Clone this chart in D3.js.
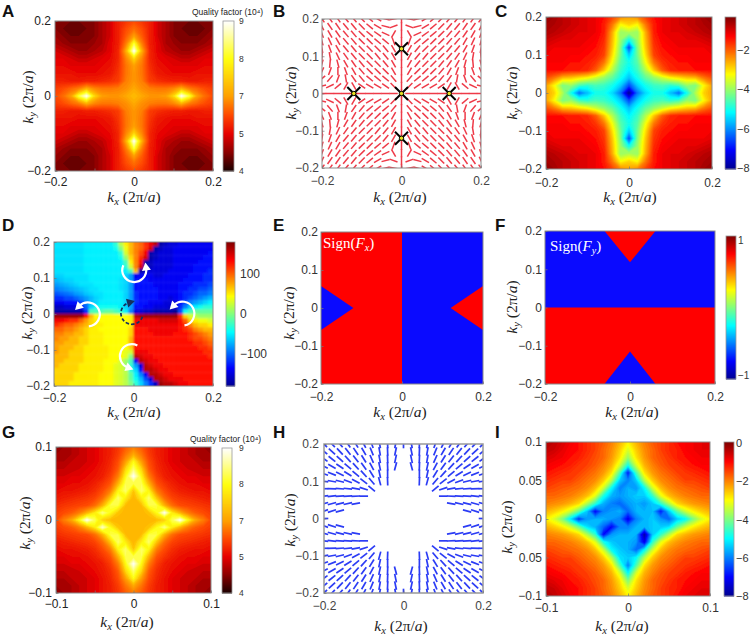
<!DOCTYPE html>
<html><head><meta charset="utf-8">
<script src="https://cdn.jsdelivr.net/npm/d3@7"></script>
<style>html,body{margin:0;background:#fff;overflow:hidden}svg{display:block}</style></head>
<body><svg id="c" width="750" height="635"></svg>
<script>
// ---- DATA ----
const tick2 = [-0.2,-0.1,0,0.1,0.2];
const tick2Labels = ["−0.2","−0.1","0","0.1","0.2"];
const tick2Sparse = ["−0.2","","0","","0.2"];
const tick1 = [-0.1,-0.05,0,0.05,0.1];
const tick1Sparse = ["−0.1","","0","","0.1"];
const iYLabels = ["−0.1","0.05","0","0.05","0.1"];
const qualityTicks = [4,5,7,8,9];
const logTicksC = [-8,-6,-4,-2];
const logTicksI = [-8,-6,-4,-2,0];
const phaseTicks = [-100,0,100];
const signTicks = [-1,1];
// Quality factor x10 (rows y top to bottom, columns x left to right)
const gridA = [
[45,44,44,44,44,45,47,49,54,57,60,57,54,49,47,45,44,44,44,44,45],
[45,44,43,43,44,45,47,49,54,60,64,60,54,49,47,45,44,43,43,44,45],
[46,45,44,44,44,45,47,49,54,62,70,62,54,49,47,45,44,44,44,45,46],
[47,46,45,45,45,46,47,50,54,66,82,66,54,50,47,46,45,45,45,46,47],
[49,48,47,46,46,47,48,50,55,72,90,72,55,50,48,47,46,46,47,48,49],
[50,50,49,48,48,49,50,51,55,67,76,67,55,51,50,49,48,48,49,50,50],
[51,51,50,50,50,50,51,52,56,65,70,65,56,52,51,50,50,50,50,51,51],
[52,52,52,51,51,51,52,53,57,65,69,65,57,53,52,51,51,51,52,52,52],
[54,54,53,53,54,54,55,56,58,66,69,66,58,56,55,54,54,53,53,54,54],
[58,60,63,66,72,67,65,65,66,68,71,68,66,65,65,67,72,66,63,60,58],
[60,64,70,82,90,76,70,69,69,71,73,71,69,69,70,76,90,82,70,64,60],
[58,60,63,66,72,67,65,65,66,68,71,68,66,65,65,67,72,66,63,60,58],
[54,54,53,53,54,54,55,56,58,66,69,66,58,56,55,54,54,53,53,54,54],
[52,52,52,51,51,51,52,53,57,65,69,65,57,53,52,51,51,51,52,52,52],
[51,51,50,50,50,50,51,52,56,65,70,65,56,52,51,50,50,50,50,51,51],
[50,50,49,48,48,49,50,51,55,67,76,67,55,51,50,49,48,48,49,50,50],
[49,48,47,46,46,47,48,50,55,72,90,72,55,50,48,47,46,46,47,48,49],
[47,46,45,45,45,46,47,50,54,66,82,66,54,50,47,46,45,45,45,46,47],
[46,45,44,44,44,45,47,49,54,62,70,62,54,49,47,45,44,44,44,45,46],
[45,44,43,43,44,45,47,49,54,60,64,60,54,49,47,45,44,43,43,44,45],
[45,44,44,44,44,45,47,49,54,57,60,57,54,49,47,45,44,44,44,44,45]];
// Log value x(-10)
const gridC = [
[5,6,8,9,10,11,12,14,18,23,25,23,18,14,12,11,10,9,8,6,5],
[6,7,8,9,10,11,12,15,22,32,29,32,22,15,12,11,10,9,8,7,6],
[7,8,9,10,11,11,12,15,26,40,38,40,26,15,12,11,11,10,9,8,7],
[9,10,11,11,12,12,13,16,27,40,50,40,27,16,13,12,12,11,11,10,9],
[11,12,12,12,12,13,14,17,28,42,65,42,28,17,14,13,12,12,12,12,11],
[12,13,13,13,13,14,15,18,30,43,55,43,30,18,15,14,13,13,13,13,12],
[13,13,13,14,14,15,17,22,33,45,50,45,33,22,17,15,14,14,13,13,13],
[14,14,14,15,15,16,20,28,38,47,52,47,38,28,20,16,15,15,14,14,14],
[19,22,27,28,30,32,36,40,44,50,56,50,44,40,36,32,30,28,27,22,19],
[25,32,42,40,46,48,46,47,50,55,65,55,50,47,46,48,46,40,42,32,25],
[25,29,38,50,62,56,50,50,54,62,80,62,54,50,50,56,62,50,38,29,25],
[25,32,42,40,46,48,46,47,50,55,65,55,50,47,46,48,46,40,42,32,25],
[19,22,27,28,30,32,36,40,44,50,56,50,44,40,36,32,30,28,27,22,19],
[14,14,14,15,15,16,20,28,38,47,52,47,38,28,20,16,15,15,14,14,14],
[13,13,13,14,14,15,17,22,33,45,50,45,33,22,17,15,14,14,13,13,13],
[12,13,13,13,13,14,15,18,30,43,55,43,30,18,15,14,13,13,13,13,12],
[11,12,12,12,12,13,14,17,28,42,65,42,28,17,14,13,12,12,12,12,11],
[9,10,11,11,12,12,13,16,27,40,50,40,27,16,13,12,12,11,11,10,9],
[7,8,9,10,11,11,12,15,26,40,38,40,26,15,12,11,11,10,9,8,7],
[6,7,8,9,10,11,12,15,22,32,29,32,22,15,12,11,10,9,8,7,6],
[5,6,8,9,10,11,12,14,18,23,25,23,18,14,12,11,10,9,8,6,5]];
const gridG = [
[45,46,47,48,49,50,52,54,57,62,66,62,57,54,52,50,49,48,47,46,45],
[46,46,47,48,49,50,52,54,58,65,71,65,58,54,52,50,49,48,47,46,46],
[47,47,48,48,49,50,52,55,60,70,80,70,60,55,52,50,49,48,48,47,47],
[48,48,48,49,50,51,53,56,62,76,84,76,62,56,53,51,50,49,48,48,48],
[49,49,50,50,51,52,54,58,66,80,90,80,66,58,54,52,51,50,50,49,49],
[50,50,51,51,52,54,57,61,72,83,82,83,72,61,57,54,52,51,51,50,50],
[51,52,52,53,54,56,60,66,79,84,74,84,79,66,60,56,54,53,52,52,51],
[53,54,55,56,57,59,64,74,84,78,72,78,84,74,64,59,57,56,55,54,53],
[56,57,58,59,60,64,72,82,82,73,72,73,82,82,72,64,60,59,58,57,56],
[58,60,62,66,72,78,85,80,74,72,72,72,74,80,90,78,72,66,62,60,58],
[60,66,71,80,90,83,75,73,72,72,72,72,72,73,75,83,90,80,71,66,60],
[58,60,62,66,72,78,88,80,74,72,72,72,74,80,85,78,72,66,62,60,58],
[56,57,58,59,60,64,72,82,82,73,72,73,82,82,72,64,60,59,58,57,56],
[53,54,55,56,57,59,64,74,84,78,72,78,84,74,64,59,57,56,55,54,53],
[51,52,52,53,54,56,60,66,79,84,74,84,79,66,60,56,54,53,52,52,51],
[50,50,51,51,52,54,57,61,72,83,82,83,72,61,57,54,52,51,51,50,50],
[49,49,50,50,51,52,54,58,66,80,90,80,66,58,54,52,51,50,50,49,49],
[48,48,48,49,50,51,53,56,62,76,84,76,62,56,53,51,50,49,48,48,48],
[47,47,48,48,49,50,52,55,60,70,80,70,60,55,52,50,49,48,48,47,47],
[46,46,47,48,49,50,52,54,58,65,71,65,58,54,52,50,49,48,47,46,46],
[45,46,47,48,49,50,52,54,57,62,66,62,57,54,52,50,49,48,47,46,45]];
const gridI = [
[4,5,7,9,11,13,15,17,20,24,29,24,20,17,15,13,11,10,9,8,8],
[5,6,8,10,11,13,15,18,21,26,33,26,21,18,15,13,12,10,9,8,8],
[7,8,9,11,12,14,16,18,22,28,38,28,22,18,16,14,12,11,10,9,9],
[9,10,11,12,14,15,17,20,24,33,48,33,24,20,17,15,14,12,11,10,10],
[11,12,13,14,15,17,19,22,28,44,68,44,28,22,19,17,15,14,13,12,11],
[13,14,15,15,17,19,21,26,36,54,60,54,36,26,21,19,17,15,15,14,13],
[15,16,17,18,19,21,25,34,50,60,56,58,50,34,25,21,19,18,17,16,15],
[18,18,19,20,22,25,32,48,56,58,56,54,54,46,32,25,22,20,19,18,18],
[20,21,22,24,27,36,46,56,60,62,58,56,58,54,46,36,27,24,22,21,20],
[24,26,29,34,42,54,70,60,58,56,62,56,56,55,68,54,42,34,29,26,24],
[29,33,40,52,66,58,56,56,58,60,72,60,56,54,58,62,54,50,40,33,29],
[24,26,29,34,42,52,56,62,70,60,60,56,56,54,54,52,42,34,29,26,24],
[20,21,22,24,27,36,46,70,58,56,56,56,78,54,46,36,27,24,22,21,20],
[18,18,19,20,22,25,32,48,54,56,56,58,72,46,32,25,22,20,19,18,18],
[15,16,17,18,19,21,25,34,50,54,56,62,50,34,25,21,19,18,17,16,15],
[13,14,15,15,17,19,21,26,36,52,54,50,36,26,21,19,17,15,15,14,13],
[11,12,13,14,15,17,19,22,28,44,60,44,28,22,19,17,15,14,13,12,11],
[9,10,11,12,14,15,17,20,24,33,50,33,24,20,17,15,14,12,11,10,10],
[7,8,9,11,12,14,16,18,22,28,40,28,22,18,16,14,12,11,10,9,9],
[5,6,8,10,11,13,15,18,21,26,33,26,21,18,15,13,12,10,9,8,8],
[4,5,7,9,11,13,15,17,20,24,29,24,20,17,15,13,11,9,8,7,7]];
// Phase in tens of degrees, 32 x 32 cells
const gridD = [
[-5.5,-5.5,-5.5,-5.5,-5.5,-5.5,-5,-5,-5,-5,-5,-5,-3,2,5,7,9,10,12,14,16,-17,-16,-15,-15,-14,-14,-14,-14,-14,-14,-14],
[-5.5,-5.5,-5.5,-5.5,-5.5,-5.5,-5,-5,-5,-5,-5,-5,-4,0,4,7,9,10,12,15,-17,-16,-15,-15,-14,-14,-14,-14,-14,-14,-14,-14],
[-5.5,-5.5,-5.5,-5.5,-5.5,-5.5,-5,-5,-5,-5,-5,-5,-5,-3,3,7,9,11,14,-17,-16,-15,-15,-15,-14,-14,-14,-14,-14,-14,-14,-13],
[-5.5,-5.5,-5.5,-5.5,-5.5,-5.5,-5,-5,-5,-5,-5,-5,-5,-4,1,6,9,12,15,-17,-16,-15,-15,-15,-14,-14,-14,-14,-14,-14,-13,-13],
[-5.5,-5.5,-5.5,-5.5,-5.5,-5.5,-5,-5,-5,-5,-5,-5,-5,-5,-2,5,9,13,-17,-16,-15,-15,-15,-15,-14,-14,-14,-14,-14,-13,-13,-13],
[-5.5,-5.5,-5.5,-5.5,-5.5,-5.5,-5,-5,-5,-5,-5,-5,-5,-5,-3,3,9,15,-17,-16,-15,-15,-15,-15,-14,-14,-14,-14,-13,-13,-13,-13],
[-5.5,-5.5,-5.5,-5.5,-5.5,-5.5,-5,-5,-5,-5,-5,-5,-5,-5,-5,-2,7,-17,-16,-15,-15,-15,-15,-14,-14,-14,-14,-14,-13,-13,-13,-12],
[-6,-6,-5.5,-5.5,-5.5,-5.5,-5.5,-5,-5,-5,-5,-5,-5,-5,-6,-8,-14,-14,-14,-14,-15,-15,-14,-14,-14,-14,-14,-13,-13,-13,-12,-12],
[-7,-6.5,-6,-6,-5.5,-5.5,-5.5,-5,-5,-5,-5,-5,-5,-5.5,-6,-8,-13,-13,-13,-14,-14,-14,-14,-14,-14,-14,-13,-13,-13,-13,-12,-12],
[-8,-7.5,-7,-6.5,-6,-5.5,-5.5,-5.5,-5,-5,-5,-5,-5,-5.5,-6,-8,-13,-13,-13,-13,-14,-14,-14,-14,-14,-13,-13,-13,-12,-12,-12,-11],
[-9,-8.5,-8,-7.5,-7,-6.5,-6,-5.5,-5.5,-5,-5,-5,-5,-5.5,-6,-8,-13,-13,-13,-13,-13,-14,-14,-14,-14,-13,-13,-12,-12,-11,-11,-10],
[-10.5,-10,-9.5,-9,-8,-7.5,-6.5,-6,-5.5,-5.5,-5,-5,-5,-5,-6,-8,-12,-13,-13,-13,-13,-14,-14,-14,-14,-13,-12,-12,-11,-10,-10,-9],
[-12,-12,-11,-11,-10,-9,-8,-7,-6,-5.5,-5,-5,-5,-5,-6,-8,-12,-13,-13,-13,-13,-14,-14,-15,-14,-13,-12,-11,-10,-9,-8,-7],
[-14,-14,-13,-13,-13,-11,-9,-7,-6,-5,-5,-5,-5,-5,-6,-8,-12,-13,-13,-14,-14,-14,-15,-15,-15,-13,-11,-9,-8,-7,-6,-5],
[-16,-16,-15,-15,-15,-14,-10,-6,-4,-4,-4,-4,-4,-5,-6,-8,-13,-13,-14,-14,-15,-15,-15,-16,-15,-12,-9,-6,-5,-4,-3,-3],
[-17,-17,-17,-17,-17,-17,-12,-2,-2,-2,-1,-1,-2,-3,-5,-9,-15,-15,-16,-16,-17,-17,-17,-17,-18,-11,-4,-2,-1,-1,-1,-1],
[17,17,17,17,17,17,13,7,4.5,4.5,4.5,4.5,4.5,4.5,4.5,5,16,17,17,17,17,17,17,17,17,12,6,3,2,1,1,1],
[14,14,13,12,12,10,8,6,5,4.5,4.5,4.5,4.5,4.5,4.5,5,14,14,14,14,14,15,15,15,15,13,10,6,5,4,4,3],
[12,11,10,10,9,8,7,6,5,5,4.5,4.5,4.5,4.5,4.5,5,14,14,14,14,14,14,14,14,14,13,12,9,7,6,6,5],
[10,10,9,9,8,7,6,5,5,4.5,4.5,4.5,4.5,4.5,4.5,6,13,13,13,14,14,14,14,14,14,13,12,11,9,8,7,7],
[9,9,8,8,7,7,6,5,5,5,4.5,4.5,4.5,4.5,4.5,6,13,13,13,13,14,14,14,14,13,13,13,12,11,10,9,8],
[9,8,8,7,7,6,6,5,5,5,4.5,4.5,4.5,4.5,4.5,7,13,13,13,13,13,13,13,13,13,13,13,12,11,11,10,9],
[8,8,7,7,7,6,6,5,5,5,4.5,4.5,4.5,4.5,4.5,7,13,13,13,13,13,13,13,13,13,13,13,13,12,12,11,10],
[8,7,7,7,6,6,5,5,5,5,5,4.5,4.5,4.5,4.5,6,13,13,13,13,13,13,13,13,13,13,13,13,13,12,12,11],
[8,7,7,6,6,6,5,5,5,5,5,4.5,4.5,4.5,3.5,3,14,14,14,13,13,13,13,13,13,13,13,13,13,13,12,12],
[7,7,7,6,6,6,5,5,5,5,5,4.5,4.5,4.5,3.5,0,16,15,14,14,13,13,13,13,13,13,13,13,13,13,13,12],
[7,7,6,6,6,6,5,5,5,5,4.5,4.5,4.5,3,1,-2,-14,16,15,14,14,13,13,13,13,13,13,13,13,13,13,13],
[7,6,6,6,6,5,5,5,5,5,4.5,4.5,3.5,3,1,-3,-8,-15,16,15,14,14,13,13,13,13,13,13,13,13,13,13],
[6,6,6,6,6,5,5,5,5,5,4.5,4.5,3.5,3,2,-3,-6,-13,16,16,15,14,14,13,13,13,13,13,13,13,13,13],
[6,6,6,6,5,5,5,5,5,4.5,4.5,4.5,3.5,3,2,-1,-5,-9,-14,16,16,15,14,14,13,13,13,13,13,13,13,13],
[6,6,6,6,5,5,5,5,5,4.5,4.5,4.5,3.5,3,2,-1,-4,-7,-11,-15,16,16,15,14,14,14,13,13,13,13,13,13],
[6,6,6,5,5,5,5,5,5,4.5,4.5,4.5,3.5,3,2,0,-3,-6,-9,-12,-16,17,16,16,15,14,14,13,13,13,13,13]];
// Polarisation angles in degrees, 21 x 21
const anglesB = [
[-55,-55,-55,-50,-50,-45,-40,-30,-15,10,90,-10,15,30,40,45,50,50,55,55,55],
[-65,-55,-55,-50,-50,-45,-40,-30,-15,20,90,-20,15,30,40,45,50,50,55,55,65],
[-70,-60,-55,-50,-50,-45,-40,-35,-25,60,90,-60,25,35,40,45,50,50,55,60,70],
[-75,-65,-60,-50,-50,-45,-45,-40,-40,-70,90,70,40,40,45,45,50,50,60,65,75],
[-80,-70,-60,-50,-50,-45,-45,-45,-50,-60,90,60,50,45,45,45,50,50,60,70,80],
[85,-80,-65,-55,-50,-45,-45,-50,-50,-60,90,60,50,50,45,45,50,55,65,80,-85],
[75,85,-75,-60,-55,-50,-45,-45,-50,-60,90,60,50,45,45,50,55,60,75,-85,-75],
[65,70,90,-70,-60,-50,-45,-45,-45,-60,90,60,45,45,45,50,60,70,90,-70,-65],
[40,50,70,-80,-55,-50,-40,-40,-40,-50,90,50,40,40,40,50,55,80,-70,-50,-40],
[15,25,40,60,-60,-35,-30,-30,-35,-45,90,45,35,30,30,35,60,-60,-40,-25,-15],
[0,0,0,0,0,0,0,0,0,0,90,0,0,0,0,0,0,0,0,0,0],
[-15,-25,-40,-60,60,35,30,30,35,45,90,-45,-35,-30,-30,-35,-60,60,40,25,15],
[-40,-50,-70,80,55,50,40,40,40,50,90,-50,-40,-40,-40,-50,-55,-80,70,50,40],
[-65,-70,90,70,60,50,45,45,45,60,90,-60,-45,-45,-45,-50,-60,-70,90,70,65],
[-75,-85,75,60,55,50,45,45,50,60,90,-60,-50,-45,-45,-50,-55,-60,-75,85,75],
[-85,80,65,55,50,45,45,50,50,60,90,-60,-50,-50,-45,-45,-50,-55,-65,-80,85],
[80,70,60,50,50,45,45,45,50,60,90,-60,-50,-45,-45,-45,-50,-50,-60,-70,-80],
[75,65,60,50,50,45,45,40,40,70,90,-70,-40,-40,-45,-45,-50,-50,-60,-65,-75],
[70,60,55,50,50,45,40,35,25,-60,90,60,-25,-35,-40,-45,-50,-50,-55,-60,-70],
[65,55,55,50,50,45,40,30,15,-20,90,20,-15,-30,-40,-45,-50,-50,-55,-55,-65],
[55,55,55,50,50,45,40,30,15,-10,90,10,-15,-30,-40,-45,-50,-50,-55,-55,-55]];
const _ = null;
const anglesH = [
[-45,-47,-50,-55,-58,-62,-70,-80,-88,80,90,-80,88,80,70,62,58,55,50,47,45],
[-40,-43,-47,-52,-56,-60,-68,-80,-88,78,_,-78,88,80,68,60,56,52,47,43,40],
[-35,-38,-42,-48,-52,-58,-66,-80,-88,78,_,-78,88,80,66,58,52,48,42,38,35],
[-28,-30,-34,-40,-48,-54,-62,-78,-88,75,_,-75,88,78,62,54,48,40,34,30,28],
[-20,-22,-26,-32,-40,-48,-58,-78,-90,_,_,_,90,78,58,48,40,32,26,22,20],
[-8,-10,-14,-20,-28,-38,-50,-75,-88,_,_,_,88,75,50,38,28,20,14,10,8],
[0,-2,-4,-6,-10,-18,-40,_,_,_,_,_,_,_,40,18,10,6,4,2,0],
[8,6,4,3,2,0,_,_,_,_,_,_,_,_,_,0,-2,-3,-4,-6,-8],
[15,15,14,12,10,_,_,_,_,_,_,_,_,_,_,_,-10,-12,-14,-15,-15],
[20,18,15,_,_,_,_,_,_,_,_,_,_,_,_,_,_,_,-15,-18,-20],
[0,_,_,_,_,_,_,_,_,_,_,_,_,_,_,_,_,_,_,_,0],
[-20,-18,-15,_,_,_,_,_,_,_,_,_,_,_,_,_,_,_,15,18,20],
[-15,-15,-14,-12,-10,_,_,_,_,_,_,_,_,_,_,_,10,12,14,15,15],
[-8,-6,-4,-3,-2,0,_,_,_,_,_,_,_,_,_,0,2,3,4,6,8],
[0,2,4,6,10,18,40,_,_,_,_,_,_,_,-40,-18,-10,-6,-4,-2,0],
[8,10,14,20,28,38,50,75,88,_,_,_,-88,-75,-50,-38,-28,-20,-14,-10,-8],
[20,22,26,32,40,48,58,78,90,_,_,_,90,-78,-58,-48,-40,-32,-26,-22,-20],
[28,30,34,40,48,54,62,78,88,-75,_,75,-88,-78,-62,-54,-48,-40,-34,-30,-28],
[35,38,42,48,52,58,66,80,88,-78,_,78,-88,-80,-66,-58,-52,-48,-42,-38,-35],
[40,43,47,52,56,60,68,80,88,-78,_,78,-88,-80,-68,-60,-56,-52,-47,-43,-40],
[45,47,50,55,58,62,70,80,88,-80,90,80,-88,-80,-70,-62,-58,-55,-50,-47,-45]];
const singularB = [[0,0.12],[-0.12,0],[0,0],[0.12,0],[0,-0.12]];
// Sign regions as polygons in k-space
const eRed = [[-0.2,0.2],[0,0.2],[0,-0.2],[-0.2,-0.2]];
const eBlueTri = [[-0.2,0.058],[-0.12,0],[-0.2,-0.058]];
const eRedTri = [[0.2,0.058],[0.12,0],[0.2,-0.058]];
const fRed = [[-0.2,0],[0.2,0],[0.2,-0.2],[-0.2,-0.2]];
const fRedTri = [[-0.06,0.2],[0.06,0.2],[0,0.118]];
const fBlueTri = [[-0.06,-0.2],[0.06,-0.2],[0,-0.115]];
// Winding arrows of panel D: centre kx, ky, start and end angle (deg)
const windings = [
 {k:[0.002,0.122],a:[294,82],dark:false},
 {k:[0.123,0.001],a:[170,-45],dark:false},
 {k:[-0.115,-0.001],a:[175,-45],dark:false},
 {k:[-0.004,-0.117],a:[27,-160],dark:false},
 {k:[-0.004,0.002],a:[108,345],dark:true}];

// ---- COLOUR ----
const jetT = d3.scaleLinear().domain([0,.125,.375,.625,.875,1])
  .range(["#00008f","#0000ff","#00ffff","#ffff00","#ff0000","#800000"]);
const jet = (lo,hi)=>v=>jetT((v-lo)/(hi-lo));
const heat = d3.scaleLinear().domain([40,45,50,60,70,80,90])
  .range(["#1a0000","#8a0000","#e60000","#ff4a00","#ffa000","#ffff10","#ffffff"]);

// ---- HELPERS ----
const svg = d3.select("#c");
const defs = svg.append("defs");
function blurDef(id,sd){defs.append("filter").attr("id",id).attr("x","-5%").attr("y","-5%").attr("width","110%").attr("height","110%")
  .append("feGaussianBlur").attr("stdDeviation",sd);}
blurDef("soft",0.7); blurDef("softD",1.3);
let clipN = 0;
const sans = "'Liberation Sans',Arial,sans-serif", serif = "'Liberation Serif','Times New Roman',serif";

function kLabel(g, sub, x, y, rot, size){
  const t = g.append("text").attr("text-anchor","middle").attr("font-family",serif)
    .attr("font-size",size||15.5).attr("fill","#222")
    .attr("transform",`translate(${x},${y})${rot?" rotate(-90)":""}`).attr("dy","0.32em");
  t.append("tspan").attr("font-style","italic").text("k");
  t.append("tspan").attr("font-style","italic").attr("font-size",(size||15.5)*0.68).attr("dy","0.25em").text(sub);
  t.append("tspan").attr("dy","-0.17em").text(" (2π/");
  t.append("tspan").attr("font-style","italic").text("a");
  t.append("tspan").text(")");
}
function panel(o){
  const g = svg.append("g");
  const x = d3.scaleLinear().domain(o.xd).range([o.x0,o.x1]);
  const y = d3.scaleLinear().domain(o.yd).range([o.y1,o.y0]);
  const id = "cp"+(clipN++);
  defs.append("clipPath").attr("id",id).append("rect")
    .attr("x",o.x0).attr("y",o.y0).attr("width",o.x1-o.x0).attr("height",o.y1-o.y0);
  const body = g.append("g").attr("clip-path",`url(#${id})`);
  return {g,x,y,body,o};
}
function finish(p){
  const {g,x,y,o} = p;
  const col = o.tc||"#333", fs = o.fs||12;
  g.append("rect").attr("x",o.x0).attr("y",o.y0).attr("width",o.x1-o.x0).attr("height",o.y1-o.y0)
    .attr("fill","none").attr("stroke",o.fc||"#8a8a8a").attr("stroke-width",o.fw||1);
  const ax = g.append("g").attr("transform",`translate(0,${o.y1})`)
    .call(d3.axisBottom(x).tickValues(o.xt).tickFormat((d,i)=>o.xl[i]).tickSize(-2.5).tickPadding(o.xp||5));
  const ay = g.append("g").attr("transform",`translate(${o.x0},0)`)
    .call(d3.axisLeft(y).tickValues(o.yt).tickFormat((d,i)=>o.yl[i]).tickSize(-2.5).tickPadding(o.yp||4));
  [ax,ay].forEach(a=>{a.select(".domain").remove();
    a.selectAll("line").attr("stroke","#777").attr("stroke-width",.7);
    a.selectAll("text").attr("font-family",sans).attr("font-size",fs).attr("fill",col);});
  kLabel(g,"x",o.lx[0],o.lx[1],false,o.ls);
  kLabel(g,"y",o.ly[0],o.ly[1],true,o.ls);
  g.append("text").attr("x",o.tag[0]).attr("y",o.tag[1]).attr("font-family",sans)
    .attr("font-weight","bold").attr("font-size",17).attr("fill","#111").text(o.tag[2]);
}
function contourField(p, values, color, step){
  const {o} = p, n = values.length, m = values[0].length;
  const px = d3.scaleLinear().domain([.5,m-.5]).range([o.x0,o.x1]);
  const py = d3.scaleLinear().domain([.5,n-.5]).range([o.y0,o.y1]);
  const flat = values.flat(), ex = d3.extent(flat);
  const path = d3.geoPath(d3.geoTransform({point(a,b){this.stream.point(px(a),py(b));}}));
  p.body.append("g").attr("filter","url(#soft)").selectAll("path")
    .data(d3.contours().size([m,n]).thresholds(d3.range(ex[0],ex[1],step))(flat))
    .join("path").attr("d",path).attr("fill",d=>color(d.value+step/2));
}
function colorbar(b){
  const g = svg.append("g");
  const h = b.y1-b.y0;
  g.selectAll("rect").data(d3.range(h*2)).join("rect")
    .attr("x",b.x0).attr("width",b.x1-b.x0).attr("y",d=>b.y0+d/2).attr("height",1)
    .attr("fill",d=>b.color(1-d/(h*2)));
  g.append("rect").attr("x",b.x0).attr("y",b.y0).attr("width",b.x1-b.x0).attr("height",h)
    .attr("fill","none").attr("stroke",b.stroke||"#999").attr("stroke-width",.8);
  const ax = g.append("g").attr("transform",`translate(${b.x1},0)`)
    .call(d3.axisRight(b.scale).tickValues(b.ticks).tickFormat(b.fmt).tickSize(0).tickPadding(b.pad||3));
  ax.select(".domain").remove();
  ax.selectAll("text").attr("font-family",sans).attr("font-size",b.fs).attr("fill","#333");
}
const minus = d=>String(d).replace("-","−");
const neg = g=>g.map(r=>r.map(v=>-v));
function segs(p, angles, lenPx, colr, w){
  const {x,y,o,body} = p, n = angles.length;
  const ks = d3.scaleLinear().domain([0,n-1]).range(o.xd);
  const kt = d3.scaleLinear().domain([0,n-1]).range([o.yd[1],o.yd[0]]);
  const items = [];
  angles.forEach((r,i)=>r.forEach((a,j)=>{if(a!==null)items.push({i,j,a});}));
  body.selectAll("line.s").data(items).join("line").attr("class","s")
    .attr("x1",d=>x(ks(d.j))-lenPx/2*Math.cos(d.a*Math.PI/180))
    .attr("x2",d=>x(ks(d.j))+lenPx/2*Math.cos(d.a*Math.PI/180))
    .attr("y1",d=>y(kt(d.i))+lenPx/2*Math.sin(d.a*Math.PI/180))
    .attr("y2",d=>y(kt(d.i))-lenPx/2*Math.sin(d.a*Math.PI/180))
    .attr("stroke",colr).attr("stroke-width",w);
}
function polys(p, list){
  const line = d3.line().x(d=>p.x(d[0])).y(d=>p.y(d[1]));
  list.forEach(([pts,c])=>p.body.append("path").attr("d",line(pts)+"Z").attr("fill",c));
}
const qScale = (y0,y1)=>d3.scaleLinear().domain(qualityTicks).range([y1,y1-(y1-y0)*.25,y1-(y1-y0)*.5,y1-(y1-y0)*.75,y0]);
const qColor = t=>{ const v = t<.25?40+t*40:t<.5?50+(t-.25)*80:t<.75?70+(t-.5)*40:80+(t-.75)*40; return heat(v); };
function qTitle(x,y){ svg.append("text").attr("x",x).attr("y",y).attr("font-family",sans).attr("font-size",8.5).attr("fill","#222").text("Quality factor (10⁴)"); }

// ---- PANEL A ----
let p = panel({x0:55,x1:213,y0:21,y1:171,xd:[-.2,.2],yd:[-.2,.2],xt:tick2,xl:tick2Sparse,yt:[-.2,0,.2],yl:["−0.2","0","0.2"],lx:[134,197],ly:[28,97],tag:[2,17,"A"],xp:6,tc:"#222"});
contourField(p,gridA,heat,1); finish(p);
qTitle(192,15);
colorbar({x0:223,x1:234,y0:21,y1:171,color:qColor,scale:qScale(21,171),ticks:qualityTicks,fmt:d=>d,fs:8.5,pad:5});

// ---- PANEL B ----
p = panel({x0:322,x1:481,y0:19,y1:168,xd:[-.2,.2],yd:[-.2,.2],xt:[-.2,0,.2],xl:["−0.2","0","0.2"],yt:tick2,yl:tick2Labels,lx:[400,197],ly:[291,93],tag:[273,17,"B"],xp:8,yp:3,tc:"#444"});
segs(p,anglesB,8.4,"#ee3a48",1.5);
const starG = p.body.append("g");
singularB.forEach(s=>{
  const cx=p.x(s[0]), cy=p.y(s[1]);
  const star = starG.append("g").attr("transform",`translate(${cx},${cy})`);
  [[-6.5,-6.5,6.5,6.5],[-6.5,6.5,6.5,-6.5]].forEach(l=>star.append("line").attr("x1",l[0]).attr("y1",l[1]).attr("x2",l[2]).attr("y2",l[3]).attr("stroke","#000").attr("stroke-width",2));
  star.append("circle").attr("r",2.2).attr("fill","#e8e020").attr("stroke","#000").attr("stroke-width",1);
});
finish(p);

// ---- PANEL C ----
const jetC = jet(-80,-3.5);
p = panel({x0:546,x1:712,y0:17,y1:169,xd:[-.2,.2],yd:[-.2,.2],xt:[-.2,0,.2],xl:["−0.2","0","0.2"],yt:tick2,yl:tick2Labels,lx:[630,197],ly:[512,93],tag:[495,17,"C"],xp:9,yp:4});
contourField(p,neg(gridC),jetC,1); finish(p);
colorbar({x0:725,x1:736,y0:17,y1:169,color:t=>jetT(t),scale:d3.scaleLinear().domain([-8,-.35]).range([168,17]),ticks:logTicksC,fmt:minus,fs:11,pad:1});

// ---- PANEL D ----
const jetD = jet(-180,180);
p = panel({x0:54,x1:213,y0:242,y1:386,xd:[-.2,.2],yd:[-.2,.2],xt:[-.2,0,.2],xl:["−0.2","0","0.2"],yt:tick2,yl:tick2Labels,lx:[134,412],ly:[27,313],tag:[2,231,"D"],xp:7,yp:4});
{
  const n = gridD.length;
  const bx = d3.scaleBand().domain(d3.range(n)).range([p.o.x0,p.o.x1]);
  const by = d3.scaleBand().domain(d3.range(n)).range([p.o.y0,p.o.y1]);
  const cells = []; gridD.forEach((r,i)=>r.forEach((v,j)=>cells.push({i,j,v})));
  const pad = 4;
  p.body.append("g").attr("filter","url(#softD)").selectAll("rect").data(cells).join("rect")
    .attr("x",d=>bx(d.j)-(d.j==0?pad:0)-.2)
    .attr("y",d=>by(d.i)-(d.i==0?pad:0)-.2)
    .attr("width",d=>bx.bandwidth()+((d.j==0||d.j==n-1)?pad:0)+.4)
    .attr("height",d=>by.bandwidth()+((d.i==0||d.i==n-1)?pad:0)+.4)
    .attr("fill",d=>jetD(d.v*10));
  windings.forEach(w=>{
    const c = w.dark?"#14305f":"#fff", r = w.dark?11:12;
    const cg = p.body.append("g").attr("transform",`translate(${p.x(w.k[0])},${p.y(w.k[1])})`);
    const arc = d3.path();
    const a0=(w.a[0]-90)*Math.PI/180, a1=(w.a[1]-90)*Math.PI/180;
    arc.arc(0,0,r,a0,a1,w.a[1]<w.a[0]);
    cg.append("path").attr("d",arc.toString()).attr("fill","none").attr("stroke",c).attr("stroke-width",w.dark?1.7:2.2)
      .attr("stroke-dasharray",w.dark?"3.5 2":null);
    const ex=r*Math.cos(a1), ey=r*Math.sin(a1);
    const dir=a1+(w.a[1]<w.a[0]?-Math.PI/2:Math.PI/2);
    cg.append("path").attr("d","M6,0L-2,-4.5L-2,4.5Z").attr("fill",c)
      .attr("transform",`translate(${ex},${ey}) rotate(${dir*180/Math.PI})`);
  });
}
finish(p);
colorbar({x0:226,x1:235,y0:242,y1:386,color:t=>jetT(t),scale:d3.scaleLinear().domain([-180,180]).range([386,242]),ticks:phaseTicks,fmt:minus,fs:12,pad:5});

// ---- PANEL E ----
p = panel({x0:321,x1:483,y0:232,y1:384,xd:[-.2,.2],yd:[-.2,.2],xt:[-.2,0,.2],xl:["−0.2","0","0.2"],yt:tick2,yl:tick2Labels,lx:[400,412],ly:[289,313],tag:[273,231,"E"],xp:8,yp:3});
p.body.append("rect").attr("x",321).attr("y",232).attr("width",162).attr("height",152).attr("fill","#0a0aff");
polys(p,[[eRed,"#ff0000"],[eBlueTri,"#0a0aff"],[eRedTri,"#ff0000"]]);
finish(p);
{const t=p.g.append("text").attr("x",323).attr("y",248).attr("font-family",serif).attr("font-size",15).attr("fill","#fff");
 t.append("tspan").text("Sign(");t.append("tspan").attr("font-style","italic").text("F");
 t.append("tspan").attr("font-style","italic").attr("font-size",10).attr("dy","0.25em").text("x");
 t.append("tspan").attr("dy","-0.17em").text(")");}

// ---- PANEL F ----
p = panel({x0:545,x1:715,y0:231,y1:384,xd:[-.2,.2],yd:[-.2,.2],xt:[-.2,0,.2],xl:["−0.2","0","0.2"],yt:tick2,yl:tick2Labels,lx:[632,412],ly:[512,307],tag:[495,231,"F"],xp:8,yp:3});
p.body.append("rect").attr("x",545).attr("y",231).attr("width",170).attr("height",153).attr("fill","#0a0aff");
polys(p,[[fRed,"#ff0000"],[fRedTri,"#ff0000"],[fBlueTri,"#0a0aff"]]);
finish(p);
{const t=p.g.append("text").attr("x",550).attr("y",251).attr("font-family",serif).attr("font-size",15).attr("fill","#fff");
 t.append("tspan").text("Sign(");t.append("tspan").attr("font-style","italic").text("F");
 t.append("tspan").attr("font-style","italic").attr("font-size",10).attr("dy","0.25em").text("y");
 t.append("tspan").attr("dy","-0.17em").text(")");}
colorbar({x0:726,x1:736,y0:236,y1:379,color:t=>jetT(t),scale:d3.scaleLinear().domain([-1.06,1.06]).range([379,236]),ticks:signTicks,fmt:minus,fs:10,pad:2});

// ---- PANEL G ----
p = panel({x0:56,x1:211,y0:447,y1:593,xd:[-.1,.1],yd:[-.1,.1],xt:tick1,xl:tick1Sparse,yt:[-.1,0,.1],yl:["−0.1","0","0.1"],lx:[127,622],ly:[25,523],tag:[2,438,"G"],xp:6,yp:4,tc:"#222"});
contourField(p,gridG,heat,1); finish(p);
qTitle(190,442);
colorbar({x0:222,x1:232,y0:448,y1:593,color:qColor,scale:qScale(448,593),ticks:qualityTicks,fmt:d=>d,fs:8.5,pad:7});

// ---- PANEL H ----
p = panel({x0:324,x1:483,y0:444,y1:593,xd:[-.2,.2],yd:[-.2,.2],xt:[-.2,0,.2],xl:["−0.2","0","0.2"],yt:tick2,yl:tick2Labels,lx:[401,626],ly:[290,520],tag:[273,438,"H"],xp:8,yp:5,fc:"#999",fw:1.5,tc:"#444"});
segs(p,anglesH,8.6,"#2b3cf5",1.7); finish(p);

// ---- PANEL I ----
const jetI = jet(-80,0);
p = panel({x0:546,x1:710,y0:442,y1:596,xd:[-.1,.1],yd:[-.1,.1],xt:[-.1,0,.1],xl:["−0.1","0","0.1"],yt:tick1,yl:iYLabels,lx:[622,626],ly:[507,527],tag:[495,438,"I"],xp:7,yp:4});
contourField(p,neg(gridI),jetI,1); finish(p);
colorbar({x0:724,x1:734,y0:442,y1:596,color:t=>jetT(t),scale:d3.scaleLinear().domain([-8,0]).range([596,443]),ticks:logTicksI,fmt:minus,fs:11,pad:2});
</script></body></html>
